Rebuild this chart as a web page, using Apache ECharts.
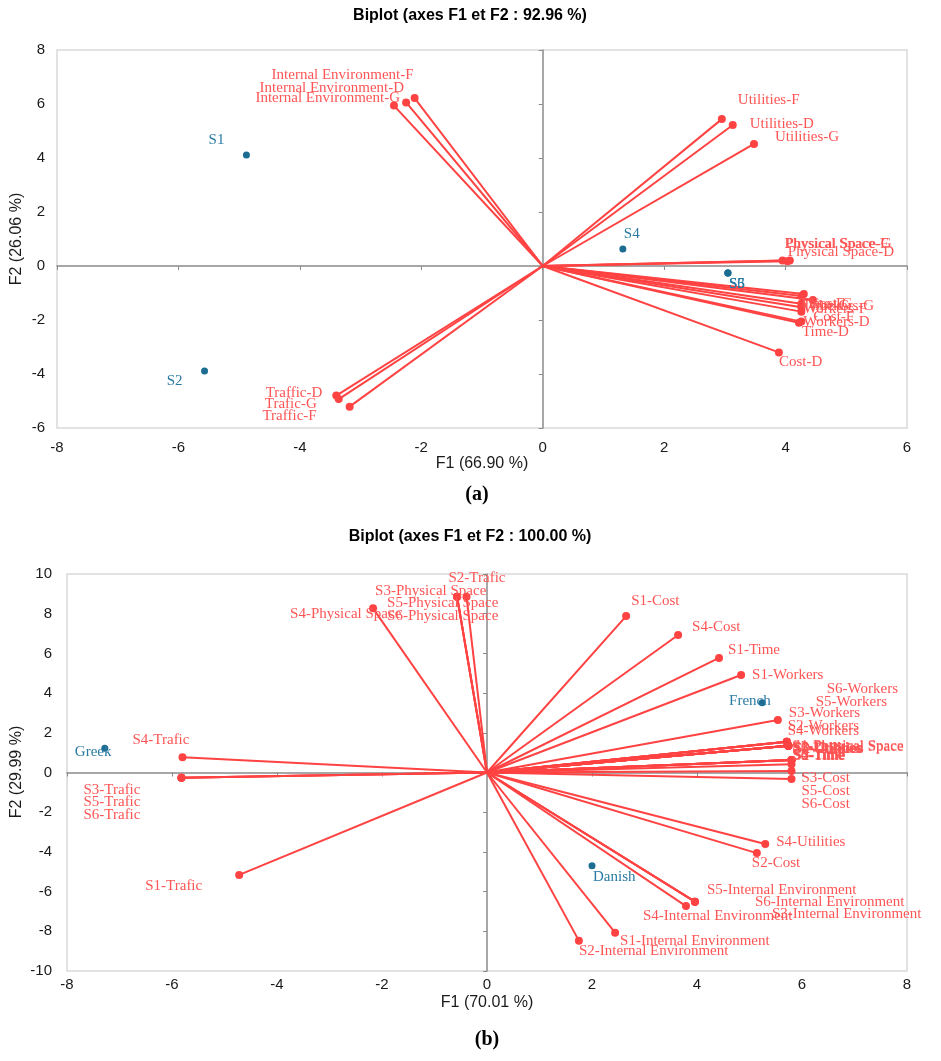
<!DOCTYPE html>
<html>
<head>
<meta charset="utf-8">
<script src="https://cdn.jsdelivr.net/npm/echarts@6/dist/echarts.min.js"></script>
<style>html,body{margin:0;padding:0;background:#fff}#c{width:941px;height:1061px}</style>
</head>
<body>
<div id="c"></div>
<script>
// ---------- Chart (a) data ----------
const aVarNames = ['Internal Environment-F','Internal Environment-D','Internal Environment-G',
  'Utilities-F','Utilities-D','Utilities-G',
  'Physical Space-F','Physical Space-G','Physical Space-D',
  'Time-F','Time-G','Workers-G','Cost-G','Workers-F','Cost-F','Workers-D','Time-D','Cost-D',
  'Traffic-D','Trafic-G','Traffic-F'];
const aVarF1 = [-2.11,-2.25,-2.45, 2.95,3.13,3.48, 3.95,4.03,4.07, 4.30,4.26,4.45,4.26,4.26,4.26,4.26,4.22,3.89, -3.40,-3.36,-3.18];
const aVarF2 = [ 6.22, 6.06, 5.94, 5.44,5.22,4.52, 0.20,0.18,0.20, -1.04,-1.11,-1.26,-1.40,-1.53,-1.69,-2.06,-2.10,-3.20, -4.80,-4.93,-5.21];
const aObsNames = ['S1','S2','S3','S4','S5','S6'];
const aObsF1 = [-4.88,-5.57,3.05,1.32,3.05,3.05];
const aObsF2 = [ 4.11,-3.89,-0.26,0.63,-0.26,-0.26];
const aXTicks = {min:-8, max:6, step:2};
const aYTicks = {min:-6, max:8, step:2};

// ---------- Chart (b) data ----------
const bVarNames = ['S1-Trafic','S2-Trafic','S3-Trafic','S4-Trafic','S5-Trafic','S6-Trafic',
  'S1-Physical Space','S2-Physical Space','S3-Physical Space','S4-Physical Space','S5-Physical Space','S6-Physical Space',
  'S1-Cost','S2-Cost','S3-Cost','S4-Cost','S5-Cost','S6-Cost',
  'S1-Time','S2-Time','S3-Time','S4-Time','S5-Time','S6-Time',
  'S1-Workers','S2-Workers','S3-Workers','S4-Workers','S5-Workers','S6-Workers',
  'S1-Utilities','S2-Utilities','S3-Utilities','S4-Utilities','S5-Utilities','S6-Utilities',
  'S1-Internal Environment','S2-Internal Environment','S3-Internal Environment','S4-Internal Environment','S5-Internal Environment','S6-Internal Environment'];
const bVarF1 = [-4.72,-0.39,-5.82,-5.80,-5.82,-5.82,
  5.74,5.74,-0.57,-2.17,-0.57,-0.57,
  2.65,5.14,5.80,3.64,5.80,5.80,
  4.42,5.80,5.80,5.80,5.80,5.80,
  4.84,5.71,5.54,5.71,5.71,5.71,
  5.74,5.74,5.74,5.30,5.74,5.74,
  2.44,1.75,3.96,3.79,3.96,3.96];
const bVarF2 = [-5.16,8.86,-0.26,0.77,-0.26,-0.26,
  1.35,1.35,8.86,8.27,8.86,8.86,
  7.88,-4.06,0.41,6.93,0.08,-0.33,
  5.77,0.63,0.63,0.63,0.63,0.63,
  4.91,1.55,2.64,1.55,1.55,1.55,
  1.35,1.35,1.35,-3.60,1.35,1.35,
  -8.07,-8.47,-6.51,-6.73,-6.51,-6.51];
const bObsNames = ['Greek','French','Danish'];
const bObsF1 = [-7.28,5.24,2.00];
const bObsF2 = [ 1.22,3.52,-4.70];
const bXTicks = {min:-8, max:8, step:2};
const bYTicks = {min:-10, max:10, step:2};

// ---------- Label placement (pixel offsets from the marker, alignment) ----------
const aVarLabelPos = [[-1,-23,'right'],[-2,-14,'right'],[6,-8,'right'],
  [16,-19],[17,-1],[21,-7],
  [2,-17],[-2,-17],[-2,-9],
  [-4,10],[1,10],[-5,6],[8,0],[2,2],[12,5],[2,0],[3,9],[0,10],
  [-14,-3,'right'],[-22,5,'right'],[-33,9,'right']];
const aObsLabelPos = [[-22,-15,'right'],[-22,10,'right'],[1,11],[1,-15],[1,11],[1,11]];
const bVarLabelPos = [[-37,11,'right'],[-18,-19],[-41,12,'right'],[-50,-17],[-41,24,'right'],[-41,37,'right'],
  [4,0],[4,1],[-82,-6],[-83,6],[-70,6],[-70,19],
  [5,-15],[-5,10],[10,14],[14,-8],[10,20],[10,25],
  [9,-8],[2,-4],[1,-5],[1,-5],[2,-5],[1,-4],
  [11,0],[1,-16],[11,-7],[1,-11],[29,-40],[40,-53],
  [4,3],[6,3],[5,2],[11,-2],[5,3],[4,2],
  [5,8],[0,10],[77,12],[-43,10],[12,-12],[60,0]];
const bObsLabelPos = [[-30,4],[-33,-2],[1,11]];

const RED_LINE = '#ff4242';
const RED_TEXT = '#ff5555';
const BLUE_DOT = '#1d6d92';
const BLUE_TEXT = '#2a7aa3';
const SANS = 'Liberation Sans, Arial, sans-serif';
const SERIF = 'Liberation Serif, Times New Roman, serif';

function vecData(f1, f2) {
  return f1.map((x, i) => ({ coords: [[0, 0], [x, f2[i]]] }));
}
function labelAxes(gi, t, isX, margin) {
  return {
    gridIndex: gi, type: 'value', min: t.min, max: t.max, interval: t.step,
    position: isX ? 'bottom' : 'left',
    axisLine: { show: false, onZero: false }, axisTick: { show: false }, splitLine: { show: false },
    axisLabel: { margin: margin, fontSize: 15, color: '#1a1a1a', fontFamily: SANS }
  };
}
function zeroAxes(gi, t, isX) {
  return {
    gridIndex: gi, type: 'value', min: t.min, max: t.max, interval: t.step,
    position: isX ? 'bottom' : 'left',
    axisLine: { show: true, onZero: true, lineStyle: { color: '#8a8a8a', width: 1.5 } },
    axisTick: { show: true, length: 4, lineStyle: { color: '#8a8a8a', width: 1 } },
    axisLabel: { show: false }, splitLine: { show: false }
  };
}
function vectorSeries(xi, yi, f1, f2) {
  return {
    type: 'lines', coordinateSystem: 'cartesian2d', xAxisIndex: xi, yAxisIndex: yi,
    data: vecData(f1, f2), silent: true, z: 3,
    lineStyle: { color: RED_LINE, width: 2, opacity: 1, curveness: 0 }
  };
}
// one scatter series per marker so every label gets its own offset/alignment
function dotSeriesList(xi, yi, names, f1, f2, pos, color, tcolor, size, z) {
  return names.map((n, i) => ({
    type: 'scatter', xAxisIndex: xi, yAxisIndex: yi, silent: true, z: z,
    data: [{ name: n, value: [f1[i], f2[i]] }],
    symbol: 'circle', symbolSize: size, itemStyle: { color: color, opacity: 1 },
    label: { show: true, position: 'inside', formatter: '{b}',
      offset: [pos[i][0], pos[i][1]], align: pos[i][2] || 'left', verticalAlign: 'middle',
      color: tcolor, fontFamily: SERIF, fontSize: 15, textBorderWidth: 0 },
    emphasis: { disabled: true }
  }));
}

const chart = echarts.init(document.getElementById('c'), null, { renderer: 'canvas' });
const option = {
  animation: false,
  backgroundColor: '#ffffff',
  grid: [
    { left: 57, right: 34, top: 50, bottom: 633, show: true, borderColor: '#d9d9d9', borderWidth: 1.5, backgroundColor: 'transparent' },
    { left: 67, right: 34, top: 574, bottom: 90, show: true, borderColor: '#d9d9d9', borderWidth: 1.5, backgroundColor: 'transparent' }
  ],
  xAxis: [labelAxes(0, aXTicks, true, 12), zeroAxes(0, aXTicks, true), labelAxes(1, bXTicks, true, 6), zeroAxes(1, bXTicks, true)],
  yAxis: [labelAxes(0, aYTicks, false, 12), zeroAxes(0, aYTicks, false), labelAxes(1, bYTicks, false, 15), zeroAxes(1, bYTicks, false)],
  graphic: [
    { type: 'text', x: 470, y: 16, style: { text: 'Biplot (axes F1 et F2 : 92.96 %)', font: 'bold 16px ' + SANS, fill: '#000', textAlign: 'center', textVerticalAlign: 'middle' } },
    { type: 'text', x: 482, y: 464, style: { text: 'F1 (66.90 %)', font: '16px ' + SANS, fill: '#1a1a1a', textAlign: 'center', textVerticalAlign: 'middle' } },
    { type: 'text', x: 17, y: 239, rotation: Math.PI / 2, style: { text: 'F2 (26.06 %)', font: '16px ' + SANS, fill: '#1a1a1a', textAlign: 'center', textVerticalAlign: 'middle' } },
    { type: 'text', x: 477, y: 495, style: { text: '(a)', font: 'bold 20px ' + SERIF, fill: '#000', textAlign: 'center', textVerticalAlign: 'middle' } },
    { type: 'text', x: 470, y: 537, style: { text: 'Biplot (axes F1 et F2 : 100.00 %)', font: 'bold 16px ' + SANS, fill: '#000', textAlign: 'center', textVerticalAlign: 'middle' } },
    { type: 'text', x: 487, y: 1003, style: { text: 'F1 (70.01 %)', font: '16px ' + SANS, fill: '#1a1a1a', textAlign: 'center', textVerticalAlign: 'middle' } },
    { type: 'text', x: 17, y: 772, rotation: Math.PI / 2, style: { text: 'F2 (29.99 %)', font: '16px ' + SANS, fill: '#1a1a1a', textAlign: 'center', textVerticalAlign: 'middle' } },
    { type: 'text', x: 487, y: 1040, style: { text: '(b)', font: 'bold 20px ' + SERIF, fill: '#000', textAlign: 'center', textVerticalAlign: 'middle' } }
  ],
  series: [].concat(
    [vectorSeries(0, 0, aVarF1, aVarF2)],
    dotSeriesList(0, 0, aVarNames, aVarF1, aVarF2, aVarLabelPos, RED_LINE, RED_TEXT, 8, 4),
    dotSeriesList(0, 0, aObsNames, aObsF1, aObsF2, aObsLabelPos, BLUE_DOT, BLUE_TEXT, 7, 5),
    [vectorSeries(2, 2, bVarF1, bVarF2)],
    dotSeriesList(2, 2, bVarNames, bVarF1, bVarF2, bVarLabelPos, RED_LINE, RED_TEXT, 8, 4),
    dotSeriesList(2, 2, bObsNames, bObsF1, bObsF2, bObsLabelPos, BLUE_DOT, BLUE_TEXT, 7, 5)
  )
};
chart.setOption(option);
</script>
</body>
</html>
